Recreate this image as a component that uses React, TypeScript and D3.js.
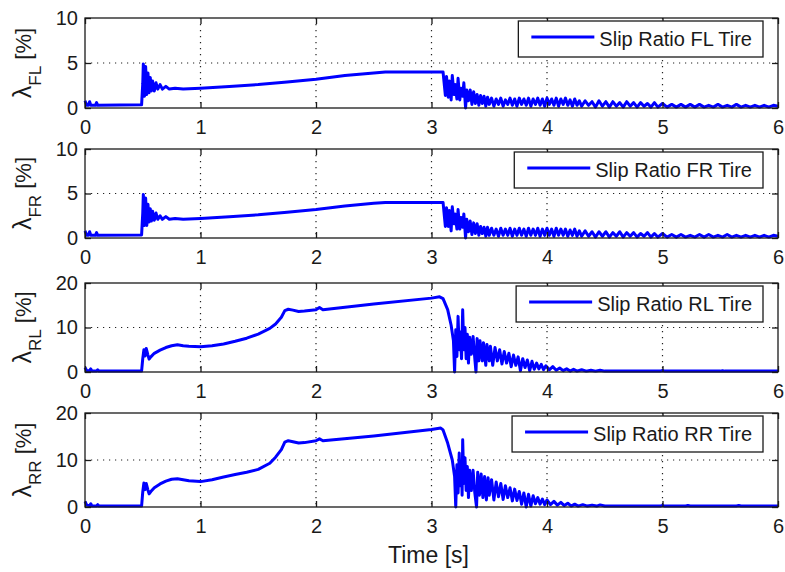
import React, { useEffect, useRef } from "react";
import * as d3 from "d3";

type Pt = [number, number];

// Time axis (s) and slip ratio axes (%)
const timeTicks = [0, 1, 2, 3, 4, 5, 6];
const frontTicks = [0, 5, 10];
const rearTicks = [0, 10, 20];

const legendFL = "Slip Ratio FL Tire";
const legendFR = "Slip Ratio FR Tire";
const legendRL = "Slip Ratio RL Tire";
const legendRR = "Slip Ratio RR Tire";

// Front-left slip ratio [%] vs time [s]
const slipFL: Pt[] = [
  [0, 0.8], [0.015, 0.3], [0.03, 0.3], [0.04, 0.7], [0.05, 0.3], [0.09, 0.3], [0.1, 0.6], [0.11, 0.3],
  [0.49, 0.35], [0.5, 2.7], [0.505, 4.9], [0.515, 1.3], [0.525, 4.6], [0.535, 1.5], [0.545, 3.9],
  [0.555, 1.7], [0.565, 3.4], [0.575, 1.9], [0.585, 3.0], [0.6, 1.9], [0.615, 2.8], [0.63, 2.1],
  [0.65, 2.6], [0.67, 2.1], [0.7, 2.4], [0.73, 2.1], [0.78, 2.2], [0.85, 2.1], [1.0, 2.2], [1.25, 2.4],
  [1.5, 2.6], [1.75, 2.9], [2.0, 3.2], [2.25, 3.6], [2.5, 3.9], [2.6, 4.0], [3.1, 4.0],
  [3.12, 1.4], [3.13, 3.5], [3.145, 1.2], [3.155, 3.0], [3.17, 0.9], [3.18, 3.6], [3.195, 1.5],
  [3.205, 2.6], [3.22, 1.0], [3.23, 3.3], [3.245, 0.9], [3.255, 2.2], [3.27, 1.3], [3.28, 2.8],
  [3.295, 0.0], [3.305, 2.0], [3.32, 0.8], [3.335, 2.0], [3.35, 0.4], [3.365, 1.8], [3.38, 0.5],
  [3.395, 1.5], [3.41, 0.3], [3.425, 1.4], [3.44, 0.5], [3.455, 1.3], [3.47, 0.2], [3.485, 1.2],
  [3.5, 0.4], [3.52, 1.1], [3.54, 0.2], [3.56, 1.0], [3.58, 0.4], [3.6, 1.1], [3.62, 0.2], [3.64, 0.9],
  [3.66, 0.4], [3.68, 1.1], [3.7, 0.3], [3.72, 1.0], [3.74, 0.2], [3.76, 1.1], [3.78, 0.4], [3.8, 1.0],
  [3.82, 0.3], [3.84, 1.1], [3.86, 0.2], [3.88, 1.0], [3.9, 0.4], [3.92, 1.1], [3.94, 0.3], [3.96, 1.0],
  [3.98, 0.2], [4.0, 1.1], [4.02, 0.4], [4.04, 1.0], [4.06, 0.3], [4.08, 1.1], [4.1, 0.2], [4.12, 1.0],
  [4.14, 0.4], [4.16, 1.1], [4.18, 0.3], [4.2, 0.9], [4.22, 0.2], [4.24, 1.0], [4.26, 0.3], [4.28, 0.8],
  [4.3, 0.2], [4.33, 0.8], [4.36, 0.3], [4.39, 0.7], [4.42, 0.1], [4.45, 0.8], [4.48, 0.2], [4.51, 0.7],
  [4.54, 0.1], [4.57, 0.7], [4.6, 0.2], [4.63, 0.6], [4.66, 0.1], [4.69, 0.7], [4.72, 0.2], [4.75, 0.6],
  [4.78, 0.1], [4.81, 0.6], [4.84, 0.2], [4.87, 0.5], [4.9, 0.1], [4.93, 0.6], [4.96, 0.1], [5.0, 0.5],
  [5.04, 0.1], [5.08, 0.4], [5.12, 0.1], [5.16, 0.4], [5.2, 0.1], [5.24, 0.4], [5.28, 0.1], [5.32, 0.4],
  [5.36, 0.1], [5.4, 0.3], [5.44, 0.1], [5.48, 0.4], [5.52, 0.1], [5.56, 0.3], [5.6, 0.1], [5.64, 0.4],
  [5.68, 0.1], [5.72, 0.3], [5.76, 0.1], [5.8, 0.3], [5.84, 0.1], [5.88, 0.3], [5.92, 0.1], [5.96, 0.3],
  [6.0, 0.2],
];

// Front-right slip ratio [%] vs time [s]
const slipFR: Pt[] = [
  [0, 0.8], [0.015, 0.3], [0.03, 0.3], [0.04, 0.7], [0.05, 0.3], [0.09, 0.3], [0.1, 0.6], [0.11, 0.3],
  [0.49, 0.35], [0.5, 2.8], [0.505, 4.9], [0.515, 1.4], [0.525, 4.5], [0.535, 1.4], [0.545, 3.8],
  [0.555, 1.8], [0.565, 3.3], [0.575, 1.9], [0.585, 3.0], [0.6, 2.0], [0.615, 2.8], [0.63, 2.1],
  [0.65, 2.5], [0.67, 2.1], [0.7, 2.4], [0.73, 2.1], [0.78, 2.2], [0.85, 2.1], [1.0, 2.2], [1.25, 2.4],
  [1.5, 2.6], [1.75, 2.9], [2.0, 3.2], [2.25, 3.6], [2.5, 3.9], [2.6, 4.0], [3.1, 4.0],
  [3.12, 1.3], [3.13, 3.4], [3.145, 1.3], [3.155, 3.1], [3.17, 0.8], [3.18, 3.5], [3.195, 1.6],
  [3.205, 2.7], [3.22, 1.0], [3.23, 3.2], [3.245, 1.0], [3.255, 2.3], [3.27, 1.2], [3.28, 2.7],
  [3.295, 0.0], [3.305, 2.1], [3.32, 0.7], [3.335, 1.9], [3.35, 0.4], [3.365, 1.7], [3.38, 0.5],
  [3.395, 1.6], [3.41, 0.3], [3.425, 1.3], [3.44, 0.5], [3.455, 1.2], [3.47, 0.2], [3.485, 1.2],
  [3.5, 0.3], [3.52, 1.1], [3.54, 0.3], [3.56, 1.0], [3.58, 0.2], [3.6, 1.1], [3.62, 0.3], [3.64, 1.0],
  [3.66, 0.3], [3.68, 1.1], [3.7, 0.2], [3.72, 1.0], [3.74, 0.3], [3.76, 1.1], [3.78, 0.3], [3.8, 1.0],
  [3.82, 0.2], [3.84, 1.1], [3.86, 0.3], [3.88, 1.0], [3.9, 0.3], [3.92, 1.1], [3.94, 0.2], [3.96, 1.0],
  [3.98, 0.3], [4.0, 1.1], [4.02, 0.3], [4.04, 1.0], [4.06, 0.2], [4.08, 1.1], [4.1, 0.3], [4.12, 1.0],
  [4.14, 0.3], [4.16, 1.0], [4.18, 0.2], [4.2, 0.9], [4.22, 0.3], [4.24, 1.0], [4.26, 0.2], [4.28, 0.8],
  [4.3, 0.2], [4.33, 0.8], [4.36, 0.2], [4.39, 0.7], [4.42, 0.1], [4.45, 0.7], [4.48, 0.2], [4.51, 0.7],
  [4.54, 0.1], [4.57, 0.6], [4.6, 0.2], [4.63, 0.7], [4.66, 0.1], [4.69, 0.6], [4.72, 0.2], [4.75, 0.6],
  [4.78, 0.1], [4.81, 0.5], [4.84, 0.2], [4.87, 0.6], [4.9, 0.1], [4.93, 0.5], [4.96, 0.1], [5.0, 0.5],
  [5.04, 0.1], [5.08, 0.4], [5.12, 0.1], [5.16, 0.4], [5.2, 0.1], [5.24, 0.3], [5.28, 0.1], [5.32, 0.4],
  [5.36, 0.1], [5.4, 0.4], [5.44, 0.1], [5.48, 0.3], [5.52, 0.1], [5.56, 0.4], [5.6, 0.1], [5.64, 0.3],
  [5.68, 0.1], [5.72, 0.3], [5.76, 0.1], [5.8, 0.3], [5.84, 0.1], [5.88, 0.3], [5.92, 0.1], [5.96, 0.3],
  [6.0, 0.2],
];

// Rear-left slip ratio [%] vs time [s]
const slipRL: Pt[] = [
  [0, 1.0], [0.015, 0.3], [0.04, 0.3], [0.05, 0.7], [0.06, 0.2], [0.1, 0.2], [0.11, 0.5], [0.12, 0.2],
  [0.49, 0.2], [0.5, 3.0], [0.51, 5.0], [0.52, 3.6], [0.53, 5.3], [0.545, 3.8], [0.555, 2.9],
  [0.57, 3.4], [0.6, 4.2], [0.65, 4.9], [0.7, 5.5], [0.75, 5.9], [0.8, 6.1], [0.85, 5.9], [0.9, 5.8],
  [1.0, 5.7], [1.1, 5.9], [1.2, 6.3], [1.3, 6.9], [1.4, 7.6], [1.5, 8.5], [1.6, 9.8], [1.65, 10.8],
  [1.7, 12.3], [1.73, 13.8], [1.76, 14.1], [1.8, 13.9], [1.85, 13.6], [1.9, 13.7], [2.0, 14.0],
  [2.03, 14.5], [2.06, 14.0], [2.5, 15.3], [3.0, 16.6], [3.07, 16.9], [3.1, 16.5], [3.14, 14.0],
  [3.17, 10.5], [3.19, 7.0], [3.2, 0.0], [3.21, 9.5], [3.22, 3.5], [3.23, 12.5], [3.24, 5.0],
  [3.25, 9.0], [3.26, 3.0], [3.27, 14.0], [3.28, 5.0], [3.29, 10.0], [3.3, 3.0], [3.31, 8.5],
  [3.32, 2.0], [3.33, 7.8], [3.345, 4.0], [3.36, 8.0], [3.375, 3.0], [3.385, 0.0], [3.395, 7.5],
  [3.41, 2.5], [3.42, 7.0], [3.44, 2.5], [3.45, 6.6], [3.47, 1.5], [3.48, 6.2], [3.5, 2.5], [3.51, 5.8],
  [3.53, 1.5], [3.55, 5.5], [3.57, 2.5], [3.59, 5.0], [3.61, 1.8], [3.63, 4.6], [3.65, 2.0], [3.67, 4.2],
  [3.69, 1.2], [3.71, 3.8], [3.73, 1.5], [3.75, 3.4], [3.77, 0.3], [3.79, 3.0], [3.81, 1.0], [3.83, 2.7],
  [3.85, 0.3], [3.87, 2.4], [3.89, 0.6], [3.91, 2.0], [3.93, 0.7], [3.95, 1.7], [3.97, 0.5], [3.99, 1.4],
  [4.02, 0.5], [4.05, 1.2], [4.08, 0.4], [4.11, 0.9], [4.14, 0.3], [4.17, 0.7], [4.2, 0.2], [4.23, 0.6],
  [4.26, 0.2], [4.3, 0.5], [4.34, 0.2], [4.38, 0.4], [4.42, 0.2], [4.46, 0.4], [4.5, 0.2], [4.98, 0.2],
  [5.0, 0.35], [5.02, 0.2], [5.5, 0.2], [5.52, 0.3], [5.54, 0.2], [6.0, 0.2],
];

// Rear-right slip ratio [%] vs time [s]
const slipRR: Pt[] = [
  [0, 1.2], [0.015, 0.4], [0.04, 0.3], [0.05, 0.7], [0.06, 0.2], [0.1, 0.2], [0.11, 0.5], [0.12, 0.2],
  [0.49, 0.2], [0.5, 3.2], [0.51, 5.1], [0.52, 3.7], [0.53, 5.0], [0.545, 3.6], [0.555, 2.8],
  [0.57, 3.3], [0.6, 4.1], [0.65, 4.9], [0.7, 5.5], [0.75, 5.9], [0.8, 6.0], [0.85, 5.8], [0.9, 5.6],
  [1.0, 5.4], [1.1, 5.8], [1.2, 6.4], [1.3, 6.9], [1.4, 7.4], [1.5, 8.0], [1.6, 9.3], [1.65, 10.6],
  [1.7, 12.2], [1.73, 13.8], [1.76, 14.1], [1.8, 13.9], [1.85, 13.6], [1.9, 13.7], [2.0, 14.1],
  [2.03, 14.5], [2.06, 14.1], [2.5, 15.1], [3.0, 16.5], [3.08, 16.8], [3.1, 16.4], [3.14, 13.6],
  [3.18, 10.0], [3.2, 6.5], [3.21, 0.0], [3.22, 9.0], [3.23, 3.0], [3.24, 11.5], [3.25, 4.5],
  [3.26, 8.5], [3.265, 2.5], [3.27, 14.3], [3.28, 5.0], [3.29, 10.5], [3.3, 3.5], [3.31, 8.6],
  [3.32, 2.0], [3.33, 7.8], [3.345, 3.5], [3.36, 7.8], [3.375, 3.0], [3.39, 0.0], [3.4, 7.4],
  [3.415, 2.5], [3.43, 7.0], [3.445, 2.0], [3.46, 6.5], [3.475, 1.5], [3.49, 6.2], [3.5, 2.5],
  [3.52, 5.8], [3.54, 1.5], [3.56, 5.3], [3.58, 2.2], [3.6, 5.0], [3.62, 1.6], [3.64, 4.5], [3.66, 2.0],
  [3.68, 4.1], [3.7, 1.3], [3.72, 3.8], [3.74, 1.4], [3.76, 3.3], [3.78, 0.6], [3.8, 3.0], [3.82, 0.0],
  [3.84, 2.7], [3.86, 0.2], [3.88, 2.4], [3.9, 0.7], [3.92, 2.0], [3.94, 0.6], [3.96, 1.7], [3.98, 0.5],
  [4.0, 1.5], [4.03, 0.5], [4.06, 1.2], [4.09, 0.4], [4.12, 1.0], [4.15, 0.3], [4.18, 0.8], [4.21, 0.2],
  [4.24, 0.6], [4.27, 0.2], [4.31, 0.5], [4.35, 0.2], [4.39, 0.4], [4.43, 0.2], [4.46, 0.45],
  [4.5, 0.2], [4.98, 0.2], [5.0, 0.35], [5.02, 0.2], [5.2, 0.2], [5.22, 0.3], [5.24, 0.2], [5.64, 0.2],
  [5.66, 0.3], [5.68, 0.2], [6.0, 0.2],
];

// Panel layout: vertical extent of each axes box in pixels
const panels = [
  { data: slipFL, ticks: frontTicks, sub: "FL", legend: legendFL, top: 18, bottom: 108 },
  { data: slipFR, ticks: frontTicks, sub: "FR", legend: legendFR, top: 149, bottom: 238 },
  { data: slipRL, ticks: rearTicks, sub: "RL", legend: legendRL, top: 283, bottom: 372 },
  { data: slipRR, ticks: rearTicks, sub: "RR", legend: legendRR, top: 413, bottom: 507 },
];

const W = 785;
const H = 572;
const LEFT = 85;
const RIGHT = 778;
const FONT = "'Liberation Sans', Arial, Helvetica, sans-serif";
const INK = "#1a1a1a";
const BLUE = "#0000ff";
const TICK = 6;

export default function App() {
  const ref = useRef<SVGSVGElement | null>(null);

  useEffect(() => {
    const svg = d3.select(ref.current);
    svg.selectAll("*").remove();

    const x = d3.scaleLinear().domain([0, 6]).range([LEFT, RIGHT]);

    panels.forEach((p, i) => {
      const y = d3
        .scaleLinear()
        .domain([0, p.ticks[p.ticks.length - 1]])
        .range([p.bottom, p.top]);
      const g = svg.append("g");

      g.append("rect")
        .attr("x", LEFT)
        .attr("y", p.top)
        .attr("width", RIGHT - LEFT)
        .attr("height", p.bottom - p.top)
        .attr("fill", "#fff");

      // dotted grid
      const grid = g.append("g").attr("stroke", "#222").attr("stroke-width", 1.2).attr("stroke-dasharray", "1.2,4.8");
      timeTicks.slice(1, -1).forEach((t) => {
        grid.append("line").attr("x1", x(t)).attr("x2", x(t)).attr("y1", p.top).attr("y2", p.bottom);
      });
      p.ticks.slice(1, -1).forEach((v) => {
        grid.append("line").attr("x1", LEFT).attr("x2", RIGHT).attr("y1", y(v)).attr("y2", y(v));
      });

      // series
      const line = d3
        .line<Pt>()
        .x((d) => x(d[0]))
        .y((d) => y(d[1]));
      g.append("path")
        .attr("d", line(p.data) ?? "")
        .attr("fill", "none")
        .attr("stroke", BLUE)
        .attr("stroke-width", 3)
        .attr("stroke-linejoin", "round");

      // axes with inward ticks on all four sides
      const bottomAxis = d3.axisBottom(x).tickValues(timeTicks).tickSizeInner(-TICK).tickSizeOuter(0).tickPadding(12).tickFormat(d3.format("d"));
      const topAxis = d3.axisTop(x).tickValues(timeTicks).tickSizeInner(-TICK).tickSizeOuter(0).tickFormat(() => "");
      const leftAxis = d3.axisLeft(y).tickValues(p.ticks).tickSizeInner(-TICK).tickSizeOuter(0).tickPadding(7).tickFormat(d3.format("d"));
      const rightAxis = d3.axisRight(y).tickValues(p.ticks).tickSizeInner(-TICK).tickSizeOuter(0).tickFormat(() => "");

      const styleAxis = (sel: d3.Selection<SVGGElement, unknown, null, undefined>) => {
        sel.select(".domain").remove();
        sel.selectAll(".tick line").attr("stroke", INK).attr("stroke-width", 1.3);
        sel.selectAll(".tick text").attr("fill", INK).style("font-family", FONT).style("font-size", "20px");
      };

      g.append("g").attr("transform", `translate(0,${p.bottom})`).call(bottomAxis).call(styleAxis as any);
      g.append("g").attr("transform", `translate(0,${p.top})`).call(topAxis).call(styleAxis as any);
      g.append("g").attr("transform", `translate(${LEFT},0)`).call(leftAxis).call(styleAxis as any);
      g.append("g").attr("transform", `translate(${RIGHT},0)`).call(rightAxis).call(styleAxis as any);

      g.append("rect")
        .attr("x", LEFT)
        .attr("y", p.top)
        .attr("width", RIGHT - LEFT)
        .attr("height", p.bottom - p.top)
        .attr("fill", "none")
        .attr("stroke", INK)
        .attr("stroke-width", 1.3);

      // y label: λ with subscript and unit
      const midY = (p.top + p.bottom) / 2;
      const lab = g
        .append("text")
        .attr("transform", `translate(31,${midY}) rotate(-90)`)
        .attr("text-anchor", "middle")
        .attr("fill", INK)
        .style("font-family", FONT)
        .style("font-size", "22px");
      lab.append("tspan").style("font-size", "25px").text("λ");
      lab.append("tspan").attr("dy", 10).style("font-size", "17px").text(p.sub);
      lab.append("tspan").attr("dy", -10).text(" [%]");

      // legend
      const lg = g.append("g");
      const boxRight = RIGHT - 15;
      const boxTop = p.top + 3;
      const boxH = 36;
      const txt = lg
        .append("text")
        .attr("y", boxTop + boxH / 2 + 7)
        .attr("fill", INK)
        .style("font-family", FONT)
        .style("font-size", "20px")
        .text(p.legend);
      const tw = (txt.node() as SVGTextElement).getComputedTextLength();
      const tx = boxRight - 11 - tw;
      txt.attr("x", tx);
      const lineEnd = tx - 5;
      const lineStart = lineEnd - 63;
      const boxLeft = lineStart - 13;
      lg.insert("rect", "text")
        .attr("x", boxLeft)
        .attr("y", boxTop)
        .attr("width", boxRight - boxLeft)
        .attr("height", boxH)
        .attr("fill", "#fff")
        .attr("stroke", INK)
        .attr("stroke-width", 1.3);
      lg.append("line")
        .attr("x1", lineStart)
        .attr("x2", lineEnd)
        .attr("y1", boxTop + boxH / 2 - 2)
        .attr("y2", boxTop + boxH / 2 - 2)
        .attr("stroke", BLUE)
        .attr("stroke-width", 3);

      if (i === panels.length - 1) {
        svg
          .append("text")
          .attr("x", (LEFT + RIGHT) / 2 - 3)
          .attr("y", 563)
          .attr("text-anchor", "middle")
          .attr("fill", INK)
          .style("font-family", FONT)
          .style("font-size", "23px")
          .text("Time [s]");
      }
    });
  }, []);

  return (
    <svg
      ref={ref}
      width={W}
      height={H}
      viewBox={`0 0 ${W} ${H}`}
      style={{ position: "absolute", left: 0, top: 0, background: "#fff", display: "block" }}
    />
  );
}
